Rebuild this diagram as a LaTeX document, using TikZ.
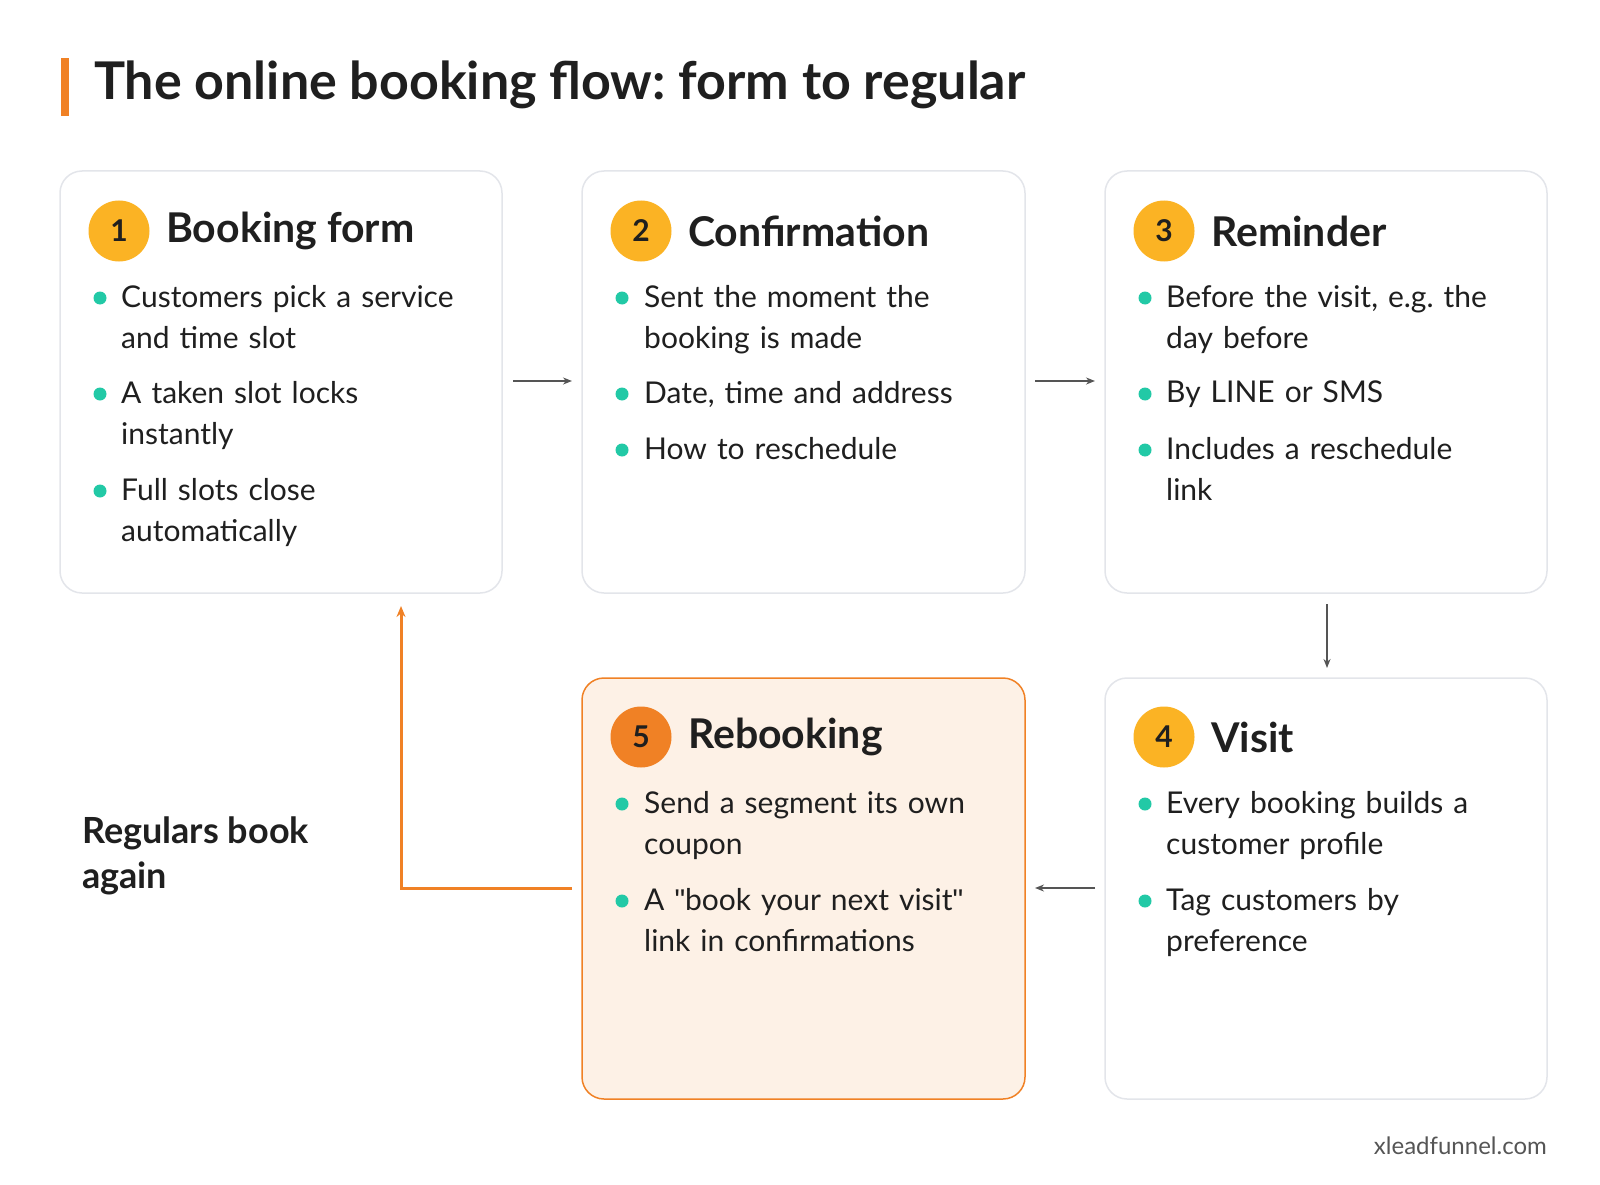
\documentclass[tikz,border=0pt]{standalone}
\usepackage{fontspec}
\setmainfont{Lato}
\newfontfamily\qfont{Liberation Sans}
\usetikzlibrary{arrows.meta}
\definecolor{ink}{HTML}{1F1F1F}
\definecolor{boxline}{HTML}{E3E5EA}
\definecolor{gold}{HTML}{FBB324}
\definecolor{orng}{HTML}{F08125}
\definecolor{peach}{HTML}{FDF1E6}
\definecolor{teal}{HTML}{22C9A6}
\definecolor{arr}{HTML}{555555}
\frenchspacing
\newcommand{\sq}{{\qfont\symbol{34}}}
\begin{document}
\begin{tikzpicture}[x=1pt,y=-1pt,
  card/.style={draw=boxline,line width=1.5pt,rounded corners=22pt,fill=white},
  badge/.style={circle,fill=gold,minimum size=61pt,inner sep=0pt,font=\fontsize{30}{30}\selectfont\bfseries,text=ink},
  head/.style={anchor=west,font=\fontsize{41}{41}\selectfont\bfseries,text=ink,inner sep=0pt},
  btxt/.style={anchor=north west,inner sep=0pt,align=left,text width=360pt,font=\fontsize{30}{41}\selectfont,text=ink},
  dot/.style={circle,fill=teal,minimum size=13pt,inner sep=0pt},
  flow/.style={draw=arr,line width=2pt,-{Stealth[length=9pt,width=7pt]}},
  back/.style={draw=orng,line width=3pt,-{Stealth[length=11pt,width=9pt]}}]
\useasboundingbox (0,0) rectangle (1600,1185);
\fill[orng] (61,58) rectangle (69,116);
\node[anchor=west,inner sep=0pt,font=\fontsize{52}{52}\selectfont\bfseries,text=ink] (title) at (94,85) {The online booking flow: form to regular};
% cards
\draw[card] (60,171) rectangle (502,593);
\draw[card] (582,171) rectangle (1025,593);
\draw[card] (1105,171) rectangle (1547,593);
\draw[card,draw=orng,fill=peach] (582,678) rectangle (1025,1099);
\draw[card] (1105,678) rectangle (1547,1099);
% anchors for connectors
\coordinate (c1r) at (513,381); \coordinate (c2l) at (572,381);
\coordinate (c2r) at (1035,381); \coordinate (c3l) at (1095,381);
\coordinate (c3b) at (1327,604); \coordinate (c4t) at (1327,668);
\coordinate (c4l) at (1095,888); \coordinate (c5r) at (1035,888);
\coordinate (c5l) at (572,888); \coordinate (c1b) at (401,606);
% card 1
\node[badge] (b1) at (119,231) {1};
\node[head] (h1) at (166,231) {Booking form};
\node[dot] (d11) at (100,298) {}; \node[btxt] (t11) at (121,285) {Customers pick a service\\and time slot};
\node[dot] (d12) at (100,394) {}; \node[btxt] (t12) at (121,381) {A taken slot locks\\instantly};
\node[dot] (d13) at (100,491) {}; \node[btxt] (t13) at (121,478) {Full slots close\\automatically};
% card 2
\node[badge] (b2) at (641,231) {2};
\node[head] (h2) at (688,231) {Confirmation};
\node[dot] (d21) at (622,298) {}; \node[btxt] (t21) at (644,285) {Sent the moment the\\booking is made};
\node[dot] (d22) at (622,394) {}; \node[btxt] (t22) at (644,381) {Date, time and address};
\node[dot] (d23) at (622,450) {}; \node[btxt] (t23) at (644,437) {How to reschedule};
% card 3
\node[badge] (b3) at (1164,231) {3};
\node[head] (h3) at (1211,231) {Reminder};
\node[dot] (d31) at (1145,298) {}; \node[btxt] (t31) at (1166,285) {Before the visit, e.g. the\\day before};
\node[dot] (d32) at (1145,394) {}; \node[btxt] (t32) at (1166,381) {By LINE or SMS};
\node[dot] (d33) at (1145,450) {}; \node[btxt] (t33) at (1166,437) {Includes a reschedule\\link};
% card 5
\node[badge,fill=orng] (b5) at (641,737) {5};
\node[head] (h5) at (688,737) {Rebooking};
\node[dot] (d51) at (622,804) {}; \node[btxt] (t51) at (644,791) {Send a segment its own\\coupon};
\node[dot] (d52) at (622,901) {}; \node[btxt] (t52) at (644,888) {A \sq book your next visit\sq\\link in confirmations};
% card 4
\node[badge] (b4) at (1164,737) {4};
\node[head] (h4) at (1211,737) {Visit};
\node[dot] (d41) at (1145,804) {}; \node[btxt] (t41) at (1166,791) {Every booking builds a\\customer profile};
\node[dot] (d42) at (1145,901) {}; \node[btxt] (t42) at (1166,888) {Tag customers by\\preference};
% connectors
\draw[flow] (c1r) -- (c2l);
\draw[flow] (c2r) -- (c3l);
\draw[flow] (c3b) -- (c4t);
\draw[flow] (c4l) -- (c5r);
\draw[back] (c5l) -| (c1b);
\node[anchor=west,inner sep=0pt,align=left,font=\fontsize{36}{45}\selectfont\bfseries,text=ink] (reg) at (82,856) {Regulars book\\again};
\node[anchor=east,inner sep=0pt,font=\fontsize{24}{24}\selectfont,text=arr] (foot) at (1547,1146) {xleadfunnel.com};
\end{tikzpicture}
\end{document}
